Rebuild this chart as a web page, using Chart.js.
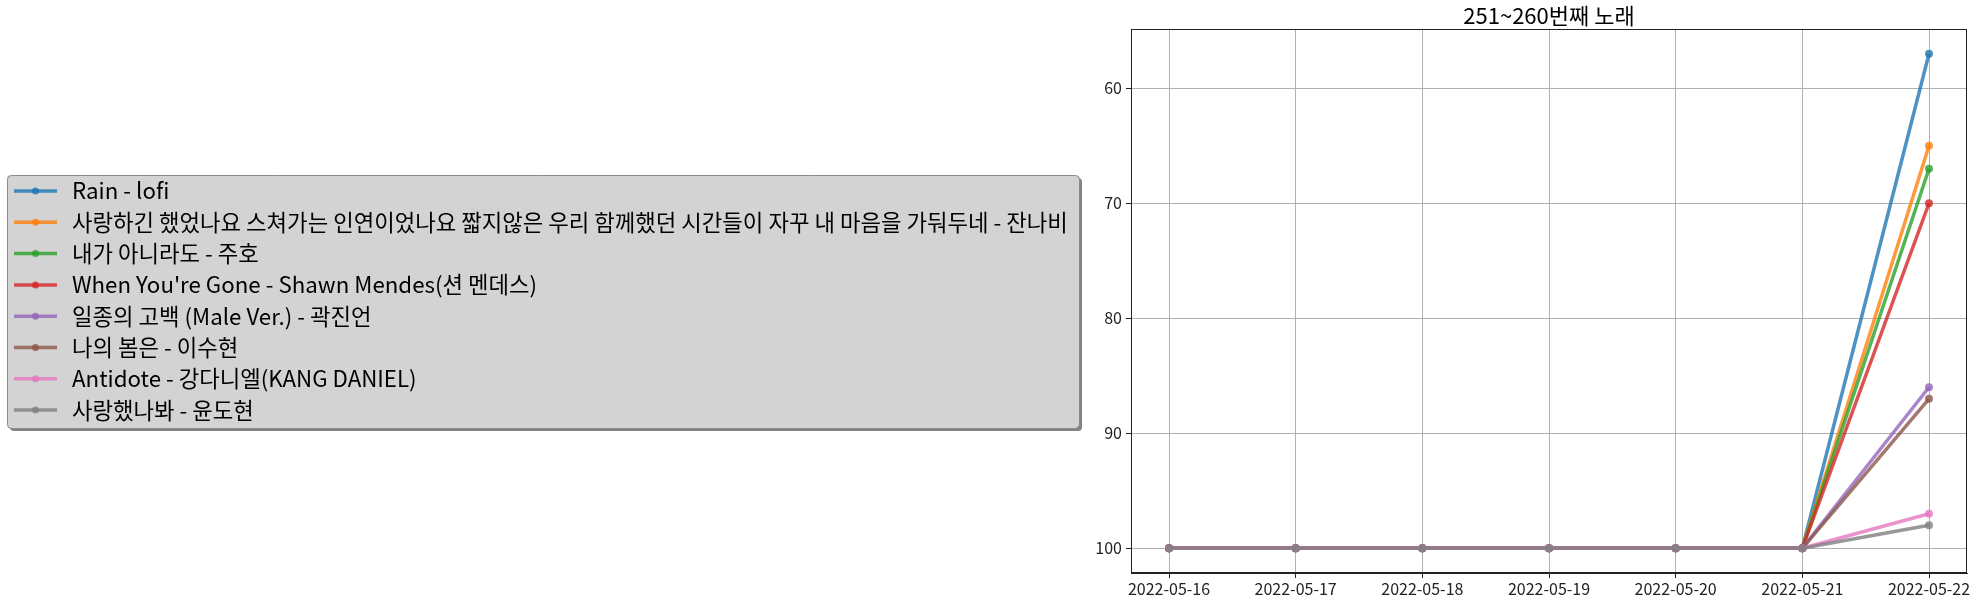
<!DOCTYPE html>
<html>
<head>
<meta charset="utf-8">
<script src="https://cdn.jsdelivr.net/npm/chart.js@4"></script>
<style>
  html, body { margin: 0; padding: 0; background: #fff; }
  canvas { display: block; }
</style>
</head>
<body>
<canvas id="chart" width="1975" height="603"></canvas>
<script>
const dates = ['2022-05-16', '2022-05-17', '2022-05-18', '2022-05-19', '2022-05-20', '2022-05-21', '2022-05-22'];
const songs = [
  'Rain - lofi',
  '사랑하긴 했었나요 스쳐가는 인연이었나요 짧지않은 우리 함께했던 시간들이 자꾸 내 마음을 가둬두네 - 잔나비',
  '내가 아니라도 - 주호',
  "When You're Gone - Shawn Mendes(션 멘데스)",
  '일종의 고백 (Male Ver.) - 곽진언',
  '나의 봄은 - 이수현',
  'Antidote - 강다니엘(KANG DANIEL)',
  '사랑했나봐 - 윤도현'
];
const rainLofi   = [100, 100, 100, 100, 100, 100, 57];
const janabi     = [100, 100, 100, 100, 100, 100, 65];
const juho       = [100, 100, 100, 100, 100, 100, 67];
const shawn      = [100, 100, 100, 100, 100, 100, 70];
const kwak       = [100, 100, 100, 100, 100, 100, 86];
const leeSuhyun  = [100, 100, 100, 100, 100, 100, 87];
const kangDaniel = [100, 100, 100, 100, 100, 100, 97];
const yoonDohyun = [100, 100, 100, 100, 100, 100, 98];
const seriesValues = [rainLofi, janabi, juho, shawn, kwak, leeSuhyun, kangDaniel, yoonDohyun];
const yTicks = [60, 70, 80, 90, 100];
const chartTitle = '251~260번째 노래';

const colors = ['31,119,180', '255,127,14', '44,160,44', '214,39,40', '148,103,189', '140,86,75', '227,119,194', '127,127,127'];
const FONT = '"Noto Sans CJK KR", "Noto Sans", sans-serif';

// later series are drawn on top, like matplotlib
const datasets = seriesValues.map((vals, i) => ({
  label: songs[i],
  data: vals.map((v, j) => ({ x: j, y: v })),
  order: seriesValues.length - i,
  borderColor: 'rgba(' + colors[i] + ',0.8)',
  backgroundColor: 'rgba(' + colors[i] + ',0.8)',
  borderWidth: 3.5,
  pointRadius: 4,
  pointHoverRadius: 4,
  pointBorderWidth: 0,
  tension: 0
}));

// legend box + title + frame, matplotlib style
const decor = {
  id: 'decor',
  afterDraw(chart) {
    const ctx = chart.ctx;
    const a = chart.chartArea;
    ctx.save();
    // frame
    ctx.strokeStyle = '#222';
    ctx.lineWidth = 1;
    ctx.strokeRect(a.left + 0.5, a.top + 0.5, a.right - a.left - 1, a.bottom - a.top - 1);
    // title
    ctx.fillStyle = '#000';
    ctx.font = '22px ' + FONT;
    ctx.textAlign = 'center';
    ctx.textBaseline = 'middle';
    ctx.fillText(chartTitle, (a.left + a.right) / 2, 16);

    // legend
    const bx = 7, by = 175, bw = 1072, bh = 253;
    const round = (x, y, w, h, r) => {
      ctx.beginPath();
      ctx.moveTo(x + r, y);
      ctx.arcTo(x + w, y, x + w, y + h, r);
      ctx.arcTo(x + w, y + h, x, y + h, r);
      ctx.arcTo(x, y + h, x, y, r);
      ctx.arcTo(x, y, x + w, y, r);
      ctx.closePath();
    };
    ctx.fillStyle = 'rgba(100,100,100,0.8)';
    round(bx + 3, by + 3, bw, bh, 4);
    ctx.fill();
    ctx.fillStyle = '#d3d3d3';
    round(bx, by, bw, bh, 4);
    ctx.fill();
    ctx.strokeStyle = '#8a8a8a';
    ctx.lineWidth = 1;
    round(bx + 0.5, by + 0.5, bw, bh, 4);
    ctx.stroke();

    ctx.font = '22.3px ' + FONT;
    ctx.textAlign = 'left';
    ctx.textBaseline = 'middle';
    chart.data.datasets.forEach((ds, i) => {
      const y = 191 + i * 31.3;
      ctx.strokeStyle = ds.borderColor;
      ctx.lineWidth = 3.5;
      ctx.beginPath();
      ctx.moveTo(14, y);
      ctx.lineTo(57, y);
      ctx.stroke();
      ctx.fillStyle = ds.backgroundColor;
      ctx.beginPath();
      ctx.arc(35.5, y, 3.5, 0, Math.PI * 2);
      ctx.fill();
      ctx.fillStyle = '#000';
      ctx.fillText(ds.label, 72, y);
    });
    ctx.restore();
  }
};

new Chart(document.getElementById('chart'), {
  type: 'line',
  data: { datasets: datasets },
  options: {
    responsive: false,
    animation: false,
    devicePixelRatio: 1,
    layout: { padding: { left: 1085, top: 29, right: 8, bottom: 0 } },
    plugins: {
      legend: { display: false },
      title: { display: false },
      tooltip: { enabled: false }
    },
    scales: {
      x: {
        type: 'linear',
        min: -0.3,
        max: 6.3,
        afterBuildTicks: scale => { scale.ticks = dates.map((d, i) => ({ value: i })); },
        afterFit: scale => { scale.height = 30; },
        ticks: {
          callback: v => dates[v],
          color: '#222',
          font: { family: FONT, size: 16 },
          padding: 1,
          maxRotation: 0,
          autoSkip: false
        },
        grid: { color: '#b0b0b0', lineWidth: 1, tickLength: 5, tickColor: '#222' },
        border: { color: '#222', width: 1 }
      },
      y: {
        type: 'linear',
        reverse: true,
        min: 54.85,
        max: 102.15,
        afterBuildTicks: scale => { scale.ticks = yTicks.map(v => ({ value: v })); },
        afterFit: scale => { scale.width = 46; },
        ticks: {
          color: '#222',
          font: { family: FONT, size: 16 },
          padding: 4
        },
        grid: { color: '#b0b0b0', lineWidth: 1, tickLength: 5, tickColor: '#222' },
        border: { color: '#222', width: 1 }
      }
    }
  },
  plugins: [decor]
});
</script>
</body>
</html>
